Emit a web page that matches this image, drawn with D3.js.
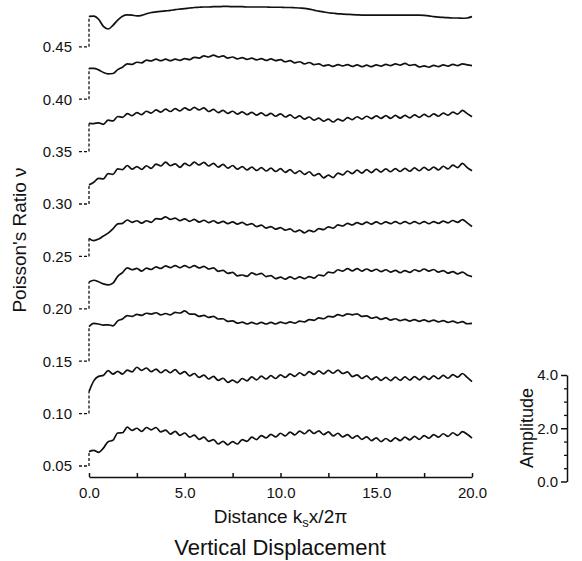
<!DOCTYPE html>
<html>
<head>
<meta charset="utf-8">
<script src="https://cdn.jsdelivr.net/npm/d3@7"></script>
<style>
  html, body { margin: 0; padding: 0; background: #fff; }
  svg { display: block; }
  text { font-family: "Liberation Sans", Arial, Helvetica, sans-serif; fill: #111; }
</style>
</head>
<body>
<svg id="chart" width="582" height="561"></svg>
<script>
// ---------------- DATA ----------------
// sample positions along the distance axis (k_s x / 2π), every 0.25
const xStart = 0, xEnd = 20, xStep = 0.25;
// Poisson's ratio for each trace (baseline where the dashed lead-in starts)
const baselines = [0.45, 0.40, 0.35, 0.30, 0.25, 0.20, 0.15, 0.10, 0.05];
// amplitude readings (amplitude units, 0..4 scale) for each trace, one value per sample
const amp045 = [
  1.16,1.17,1.05,0.78,0.68,0.82,1.02,1.17,1.22,1.21,
  1.18,1.20,1.26,1.31,1.33,1.35,1.37,1.39,1.42,1.44,
  1.46,1.48,1.50,1.51,1.52,1.52,1.53,1.53,1.54,1.54,
  1.53,1.53,1.53,1.52,1.52,1.52,1.52,1.52,1.51,1.51,
  1.51,1.50,1.50,1.49,1.48,1.47,1.44,1.40,1.36,1.33,
  1.30,1.28,1.26,1.25,1.24,1.23,1.22,1.21,1.21,1.21,
  1.21,1.21,1.21,1.21,1.21,1.21,1.21,1.21,1.21,1.21,
  1.20,1.18,1.15,1.13,1.12,1.11,1.10,1.10,1.09,1.10,1.15];
const amp040 = [
  1.18,1.18,1.12,1.02,0.97,0.98,1.13,1.22,1.35,1.33,
  1.41,1.39,1.49,1.46,1.53,1.47,1.53,1.47,1.53,1.48,
  1.55,1.51,1.60,1.57,1.65,1.61,1.68,1.61,1.65,1.57,
  1.61,1.54,1.59,1.52,1.57,1.50,1.55,1.48,1.54,1.47,
  1.51,1.43,1.47,1.39,1.43,1.35,1.40,1.32,1.35,1.27,
  1.31,1.25,1.32,1.27,1.32,1.25,1.31,1.24,1.30,1.24,
  1.31,1.26,1.33,1.28,1.35,1.30,1.37,1.29,1.32,1.23,
  1.27,1.22,1.29,1.24,1.31,1.26,1.33,1.28,1.35,1.31,1.28];
const amp035 = [
  1.08,1.07,1.10,1.04,1.20,1.17,1.34,1.31,1.45,1.37,
  1.49,1.41,1.54,1.47,1.59,1.51,1.62,1.53,1.64,1.55,
  1.67,1.58,1.69,1.59,1.67,1.53,1.61,1.49,1.57,1.46,
  1.54,1.43,1.52,1.41,1.50,1.39,1.48,1.37,1.46,1.35,
  1.44,1.32,1.40,1.28,1.36,1.24,1.32,1.20,1.28,1.16,
  1.24,1.13,1.24,1.17,1.30,1.22,1.33,1.24,1.35,1.26,
  1.36,1.27,1.37,1.27,1.38,1.28,1.38,1.29,1.40,1.31,
  1.42,1.33,1.44,1.35,1.47,1.39,1.51,1.43,1.57,1.45,1.33];
const amp030 = [
  0.73,0.83,0.98,0.96,1.16,1.13,1.34,1.31,1.47,1.33,
  1.43,1.32,1.46,1.36,1.52,1.45,1.60,1.46,1.53,1.40,
  1.55,1.46,1.60,1.49,1.59,1.45,1.55,1.41,1.51,1.37,
  1.47,1.33,1.43,1.30,1.41,1.28,1.39,1.26,1.37,1.24,
  1.35,1.21,1.31,1.17,1.27,1.13,1.23,1.08,1.16,1.00,
  1.10,1.01,1.18,1.11,1.26,1.16,1.29,1.18,1.31,1.20,
  1.33,1.22,1.34,1.23,1.35,1.24,1.36,1.25,1.38,1.27,
  1.40,1.29,1.41,1.30,1.44,1.34,1.48,1.39,1.55,1.39,1.27];
const amp025 = [
  0.69,0.60,0.66,0.78,0.89,1.05,1.24,1.26,1.39,1.30,
  1.36,1.27,1.36,1.30,1.44,1.42,1.51,1.41,1.46,1.36,
  1.43,1.34,1.41,1.31,1.38,1.29,1.36,1.27,1.34,1.25,
  1.32,1.23,1.30,1.20,1.25,1.14,1.19,1.08,1.14,1.04,
  1.10,1.00,1.05,0.94,1.00,0.90,0.99,0.94,1.06,1.02,
  1.13,1.08,1.20,1.16,1.26,1.20,1.29,1.22,1.31,1.23,
  1.32,1.24,1.32,1.25,1.33,1.25,1.33,1.25,1.33,1.25,
  1.33,1.25,1.33,1.26,1.35,1.28,1.37,1.30,1.40,1.28,1.14];
const amp020 = [
  1.02,1.09,1.03,0.95,0.91,0.98,1.24,1.38,1.56,1.49,
  1.54,1.44,1.55,1.50,1.60,1.54,1.64,1.57,1.65,1.57,
  1.65,1.57,1.65,1.56,1.62,1.52,1.56,1.43,1.47,1.35,
  1.39,1.26,1.29,1.24,1.37,1.30,1.35,1.23,1.27,1.15,
  1.21,1.13,1.22,1.14,1.22,1.15,1.23,1.17,1.29,1.26,
  1.40,1.37,1.49,1.44,1.53,1.45,1.53,1.44,1.52,1.44,
  1.51,1.42,1.49,1.40,1.47,1.38,1.46,1.39,1.49,1.43,
  1.52,1.44,1.50,1.40,1.46,1.36,1.42,1.33,1.40,1.29,1.23];
const amp015 = [
  1.32,1.44,1.42,1.38,1.39,1.35,1.54,1.61,1.74,1.71,
  1.79,1.75,1.83,1.80,1.85,1.77,1.82,1.77,1.86,1.84,
  1.92,1.80,1.80,1.71,1.75,1.67,1.71,1.61,1.62,1.52,
  1.54,1.45,1.49,1.42,1.48,1.42,1.48,1.42,1.48,1.42,
  1.49,1.44,1.50,1.45,1.53,1.50,1.59,1.56,1.65,1.62,
  1.71,1.69,1.78,1.73,1.81,1.77,1.81,1.71,1.73,1.64,
  1.68,1.60,1.65,1.57,1.62,1.55,1.60,1.53,1.59,1.52,
  1.58,1.51,1.57,1.50,1.55,1.48,1.53,1.46,1.51,1.43,1.44];
const amp010 = [
  0.84,1.25,1.42,1.46,1.64,1.51,1.61,1.51,1.66,1.59,
  1.77,1.65,1.74,1.60,1.70,1.56,1.67,1.56,1.68,1.52,
  1.60,1.44,1.53,1.38,1.47,1.32,1.42,1.27,1.35,1.19,
  1.28,1.18,1.34,1.25,1.40,1.29,1.43,1.32,1.45,1.34,
  1.48,1.38,1.52,1.42,1.56,1.46,1.60,1.50,1.63,1.52,
  1.65,1.54,1.66,1.53,1.59,1.41,1.48,1.34,1.44,1.30,
  1.40,1.27,1.38,1.26,1.39,1.27,1.40,1.28,1.41,1.29,
  1.42,1.31,1.44,1.33,1.46,1.35,1.49,1.39,1.53,1.38,1.22];
const amp005 = [
  0.55,0.60,0.52,0.68,0.93,0.98,1.26,1.27,1.48,1.36,
  1.44,1.32,1.47,1.38,1.47,1.30,1.37,1.22,1.32,1.17,
  1.26,1.10,1.18,1.02,1.10,0.94,1.01,0.84,0.94,0.81,
  0.93,0.84,1.01,0.94,1.10,1.01,1.16,1.07,1.21,1.11,
  1.25,1.15,1.29,1.19,1.33,1.23,1.37,1.24,1.34,1.20,
  1.30,1.15,1.25,1.11,1.20,1.06,1.16,1.02,1.11,0.97,
  1.07,0.93,1.05,0.94,1.07,0.97,1.10,1.00,1.13,1.02,
  1.16,1.06,1.20,1.10,1.23,1.13,1.27,1.17,1.31,1.21,1.06];
const traces = [amp045, amp040, amp035, amp030, amp025, amp020, amp015, amp010, amp005];

const yTickValues = [0.05, 0.10, 0.15, 0.20, 0.25, 0.30, 0.35, 0.40, 0.45];
const xTickValues = [0, 2.5, 5, 7.5, 10, 12.5, 15, 17.5, 20];
const xLabelled = [0, 5, 10, 15, 20];
const ampMajor = [0, 2, 4];
const ampMinor = [0.5, 1, 1.5, 2.5, 3, 3.5];
const ampPerRatio = 40;   // 1 amplitude unit = 0.025 in Poisson's ratio

// ---------------- DRAW ----------------
const svg = d3.select("#chart");
const x = d3.scaleLinear().domain([xStart, xEnd]).range([89, 472]);
const y = d3.scaleLinear().domain([0.05, 0.45]).range([466, 46.8]);
const ampScale = d3.scaleLinear().domain([0, 4]).range([481.5, 375]);

const xs = d3.range(xStart, xEnd + xStep / 2, xStep);

const line = d3.line()
  .x(d => x(d[0]))
  .y(d => y(d[1]))
  .curve(d3.curveMonotoneX);

traces.forEach((amps, k) => {
  const b = baselines[k];
  const pts = amps.map((a, i) => [xs[i], b + a / ampPerRatio]);
  // dashed lead-in: short horizontal at the baseline, then vertical up to first value
  const x0 = x(xStart);
  svg.append("path")
    .attr("d", d3.line()([[x0 - 10, y(b)], [x0, y(b)], [x0, y(pts[0][1])]]))
    .attr("fill", "none")
    .attr("stroke", "#111")
    .attr("stroke-width", 1.3)
    .attr("stroke-dasharray", "3,2");
  svg.append("path")
    .datum(pts)
    .attr("d", line)
    .attr("fill", "none")
    .attr("stroke", "#111")
    .attr("stroke-width", 1.7)
    .attr("stroke-linejoin", "round");
});

// y tick labels
svg.append("g").selectAll("text")
  .data(yTickValues)
  .join("text")
  .attr("x", 72)
  .attr("y", d => y(d))
  .attr("dy", "0.36em")
  .attr("text-anchor", "end")
  .style("font-size", "15px")
  .text(d => d3.format(".2f")(d));

// x axis (ticks pointing up, labels below)
const xAxis = d3.axisBottom(x)
  .tickValues(xTickValues)
  .tickSizeInner(-4)
  .tickSizeOuter(0)
  .tickPadding(10)
  .tickFormat(d => xLabelled.includes(d) ? d3.format(".1f")(d) : "");
const gx = svg.append("g").attr("transform", `translate(0,${477})`).call(xAxis);
gx.selectAll("path,line").attr("stroke", "#111").attr("stroke-width", 1.5);
gx.selectAll("text").style("font-size", "15px").style("font-family", "'Liberation Sans', Arial, sans-serif").attr("fill", "#111");

// x axis title
const xt = svg.append("text")
  .attr("x", 280.5)
  .attr("y", 523)
  .attr("text-anchor", "middle")
  .style("font-size", "19px");
xt.append("tspan").text("Distance k");
xt.append("tspan").attr("dy", 4).style("font-size", "13px").text("s");
xt.append("tspan").attr("dy", -4).text("x/2π");

// main title
svg.append("text")
  .attr("x", 280)
  .attr("y", 555)
  .attr("text-anchor", "middle")
  .style("font-size", "22px")
  .text("Vertical Displacement");

// y axis title
svg.append("text")
  .attr("transform", "translate(26,240) rotate(-90)")
  .attr("text-anchor", "middle")
  .style("font-size", "19px")
  .text("Poisson's Ratio ν");

// amplitude scale bar
const aMaj = d3.axisLeft(ampScale).tickValues(ampMajor).tickSizeInner(6).tickSizeOuter(0)
  .tickPadding(3).tickFormat(d3.format(".1f"));
const ga = svg.append("g").attr("transform", "translate(567,0)").call(aMaj);
ga.selectAll("path,line").attr("stroke", "#111").attr("stroke-width", 1.5);
ga.selectAll("text").style("font-size", "15px").style("font-family", "'Liberation Sans', Arial, sans-serif").attr("fill", "#111");
const aMin = d3.axisLeft(ampScale).tickValues(ampMinor).tickSizeInner(3).tickSizeOuter(0).tickFormat("");
const gm = svg.append("g").attr("transform", "translate(567,0)").call(aMin);
gm.select(".domain").remove();
gm.selectAll("line").attr("stroke", "#111").attr("stroke-width", 1.3);

svg.append("text")
  .attr("transform", "translate(533,428) rotate(-90)")
  .attr("text-anchor", "middle")
  .style("font-size", "18px")
  .text("Amplitude");
</script>
</body>
</html>
